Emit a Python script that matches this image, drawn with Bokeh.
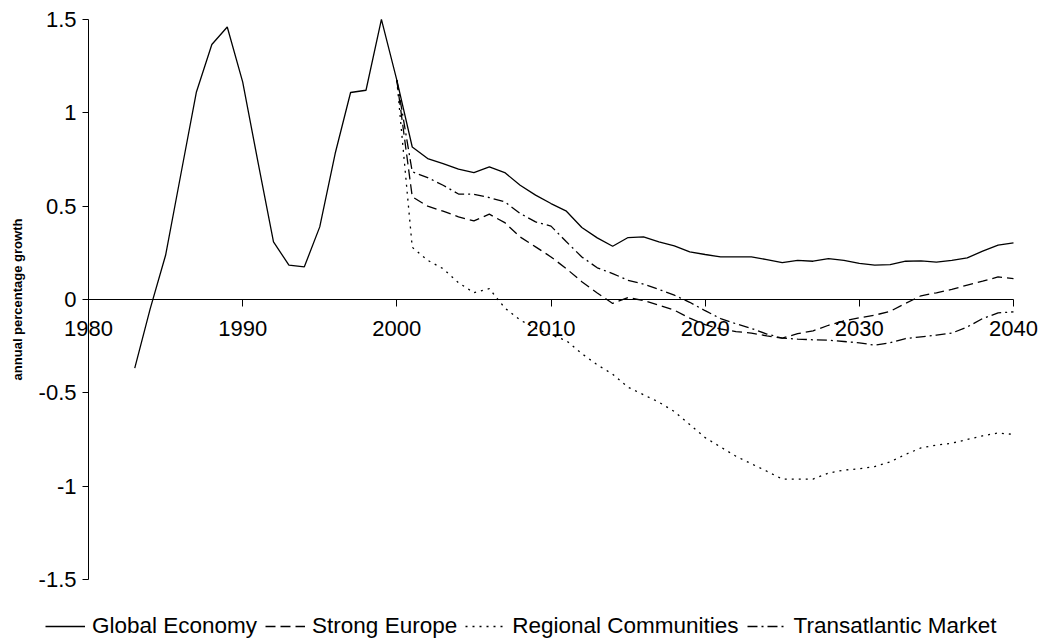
from bokeh.plotting import figure
from bokeh.models import Range1d, FixedTicker, CustomJSTickFormatter, Legend, LegendItem, LinearAxis
from bokeh.embed import file_html
from bokeh.resources import INLINE

years_global = list(range(1983, 2041))
global_economy = [
    -0.368, -0.05, 0.237, 0.675, 1.112, 1.366, 1.46, 1.166, 0.733, 0.309,
    0.184, 0.175, 0.389, 0.782, 1.109, 1.121, 1.501, 1.175, 0.817, 0.755,
    0.728, 0.698, 0.680, 0.710, 0.680, 0.612, 0.559, 0.514, 0.473, 0.386,
    0.330, 0.285, 0.332, 0.336, 0.309, 0.287, 0.255, 0.241, 0.228, 0.228,
    0.228, 0.214, 0.198, 0.210, 0.205, 0.219, 0.210, 0.193, 0.184, 0.187,
    0.205, 0.207, 0.200, 0.210, 0.223, 0.259, 0.291, 0.303,
]

years_scen = list(range(2000, 2041))
strong_europe = [
    1.175, 0.55, 0.50, 0.473, 0.443, 0.421, 0.457, 0.412, 0.335, 0.282,
    0.228, 0.165, 0.095, 0.035, -0.021, 0.010, -0.005, -0.030, -0.057, -0.100,
    -0.135, -0.158, -0.172, -0.180, -0.195, -0.207, -0.183, -0.168, -0.138, -0.115,
    -0.098, -0.084, -0.063, -0.021, 0.020, 0.036, 0.054, 0.077, 0.098, 0.121,
    0.112,
]
regional_communities = [
    1.175, 0.28, 0.21, 0.165, 0.09, 0.036, 0.058, -0.045, -0.11, -0.155,
    -0.19, -0.22, -0.29, -0.35, -0.40, -0.47, -0.51, -0.55, -0.60, -0.67,
    -0.74, -0.79, -0.84, -0.88, -0.92, -0.962, -0.962, -0.962, -0.93, -0.914,
    -0.907, -0.895, -0.87, -0.83, -0.795, -0.78, -0.77, -0.75, -0.73, -0.715,
    -0.723,
]
transatlantic_market = [
    1.175, 0.684, 0.653, 0.612, 0.565, 0.564, 0.546, 0.523, 0.461, 0.416,
    0.393, 0.309, 0.228, 0.170, 0.139, 0.103, 0.082, 0.054, 0.023, -0.015,
    -0.060, -0.102, -0.130, -0.155, -0.185, -0.207, -0.212, -0.216, -0.218, -0.225,
    -0.232, -0.245, -0.232, -0.209, -0.200, -0.191, -0.180, -0.147, -0.102, -0.072,
    -0.066,
]

x_ticks = [1980, 1990, 2000, 2010, 2020, 2030, 2040]
y_ticks = [-1.5, -1, -0.5, 0, 0.5, 1, 1.5]

FONT = "Liberation Sans"

# layout: the frame fills the whole canvas; axes are drawn at fixed data positions
W, H = 1041, 639
AX_L, AX_R = 88, 1013      # pixel columns of the x-axis ends
AX_T, AX_B = 19, 579       # pixel rows of the y-axis ends
x0, x1 = x_ticks[0], x_ticks[-1]
y0, y1 = y_ticks[0], y_ticks[-1]
ppx = (AX_R - AX_L) / (x1 - x0)
ppy = (AX_B - AX_T) / (y1 - y0)
xr = Range1d(x0 - AX_L / ppx, x1 + (W - AX_R) / ppx)
yr = Range1d(y0 - (H - AX_B) / ppy, y1 + AX_T / ppy)

p = figure(
    width=W, height=H, min_border=0,
    x_range=xr, y_range=yr,
    x_axis_location=None, y_axis_location=None,
    output_backend="svg", toolbar_location=None, tools="",
)
p.outline_line_color = None
p.grid.visible = False
p.background_fill_color = "white"
p.border_fill_color = "white"

xa = LinearAxis(fixed_location=0, bounds=(x0, x1), ticker=FixedTicker(ticks=x_ticks))
xa.minor_tick_line_color = None
xa.major_tick_in = 0
xa.major_tick_out = 7
xa.axis_line_color = "black"
xa.major_tick_line_color = "black"
xa.major_label_text_font = FONT
xa.major_label_text_font_size = "22px"
xa.major_label_text_color = "black"
xa.major_label_standoff = 14
p.add_layout(xa, "below")

ya = LinearAxis(fixed_location=x0, bounds=(y0, y1), ticker=FixedTicker(ticks=y_ticks))
ya.formatter = CustomJSTickFormatter(code="return tick.toString();")
ya.minor_tick_line_color = None
ya.major_tick_in = 0
ya.major_tick_out = 6
ya.axis_line_color = "black"
ya.major_tick_line_color = "black"
ya.major_label_text_font = FONT
ya.major_label_text_font_size = "22px"
ya.major_label_text_color = "black"
ya.major_label_standoff = 6
ya.axis_label = "annual percentage growth"
ya.axis_label_text_font = FONT
ya.axis_label_text_font_size = "13px"
ya.axis_label_text_font_style = "bold"
ya.axis_label_text_color = "black"
ya.axis_label_standoff = 11
p.add_layout(ya, "left")

lw = 1.3
r1 = p.line(years_global, global_economy, line_color="black", line_width=lw)
r2 = p.line(years_scen, strong_europe, line_color="black", line_width=lw, line_dash="10 5")
r3 = p.line(years_scen, regional_communities, line_color="black", line_width=lw, line_dash="2 5")
r4 = p.line(years_scen, transatlantic_market, line_color="black", line_width=lw, line_dash="10 4 2 4")

legend = Legend(
    items=[
        LegendItem(label="Global Economy", renderers=[r1]),
        LegendItem(label="Strong Europe", renderers=[r2]),
        LegendItem(label="Regional Communities", renderers=[r3]),
        LegendItem(label="Transatlantic Market", renderers=[r4]),
    ],
    orientation="horizontal",
    location=(45, 0),
    glyph_width=40, glyph_height=20,
    label_standoff=7, spacing=8, padding=0, margin=0,
    border_line_alpha=0, background_fill_alpha=0,
    label_text_font=FONT, label_text_font_size="22.5px", label_text_color="black",
)
p.add_layout(legend, "center")

open("out.html", "w").write(file_html(p, INLINE))
